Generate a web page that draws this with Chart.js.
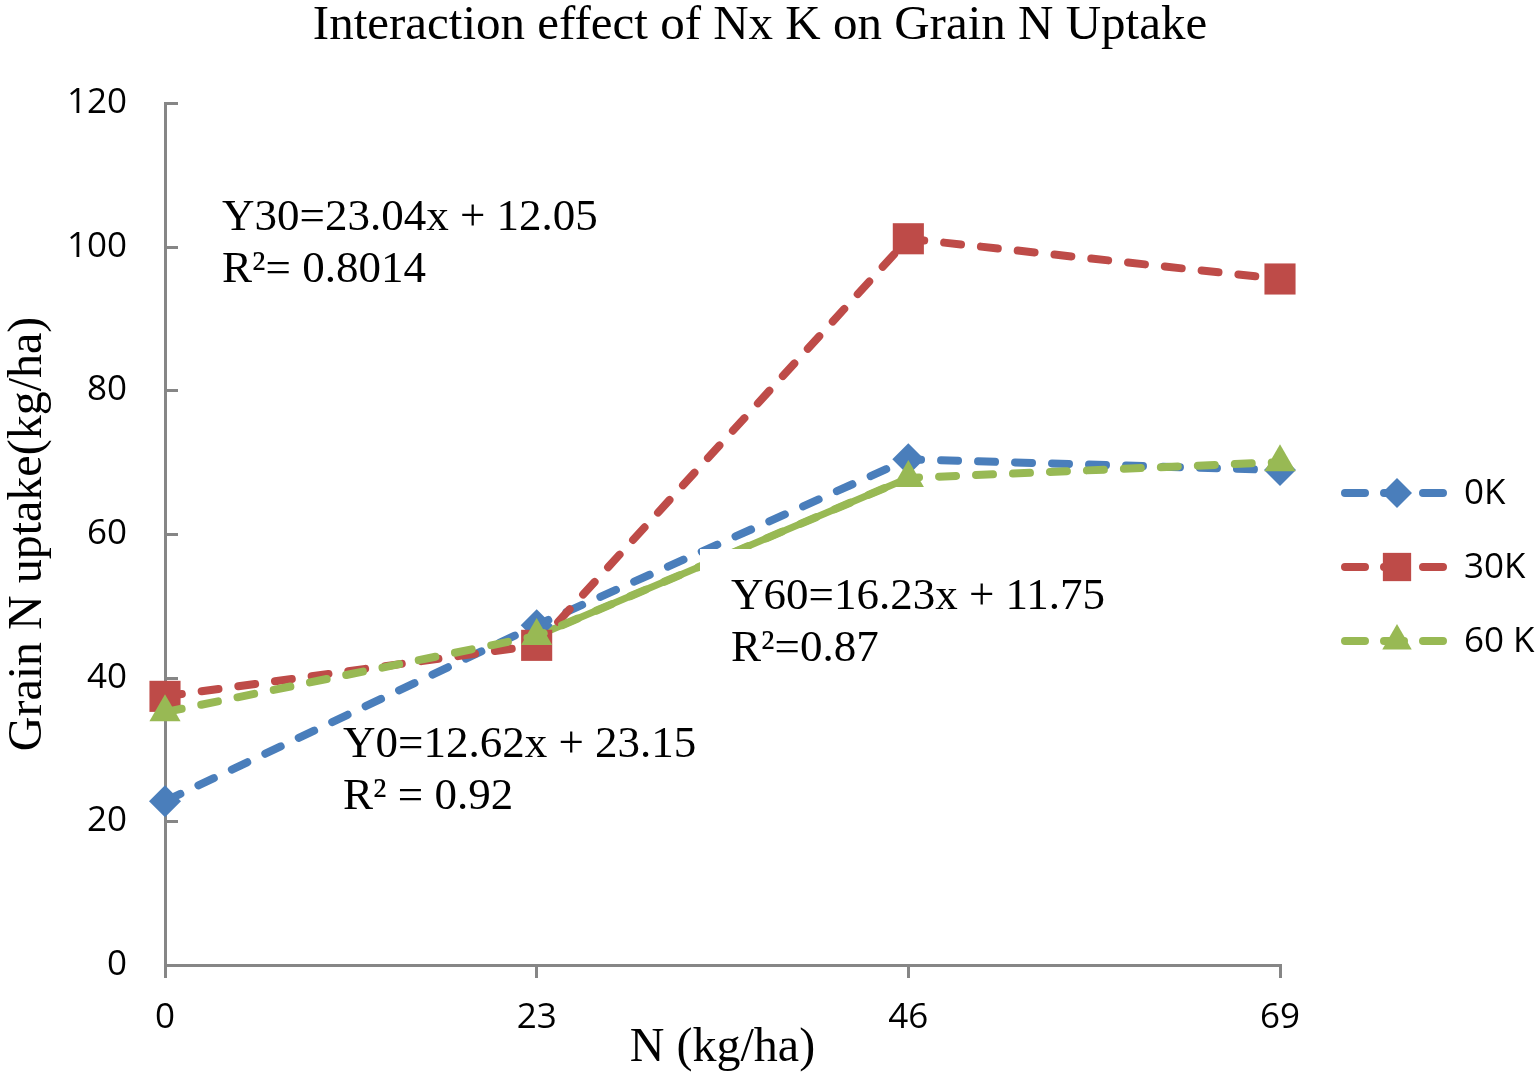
<!DOCTYPE html>
<html><head><meta charset="utf-8">
<script src="https://cdn.jsdelivr.net/npm/chart.js@4/dist/chart.umd.min.js"></script>
<style>html,body{margin:0;padding:0;background:#fff;} canvas{display:block;}</style>
</head><body>
<canvas id="c" width="1536" height="1078"></canvas>
<script>
const categories = ['0', '23', '46', '69'];
const series0K  = [22.8, 47.3, 70.4, 68.9];
const series30K = [37.4, 44.5, 101.1, 95.5];
const series60K = [35.2, 45.8, 67.8, 70.0];
const trend60K  = [null, 45.8, 67.8, null];
const seriesNames = ['0K', '30K', '60 K'];
const yTickValues = [0, 20, 40, 60, 80, 100, 120];
const chartTitle = 'Interaction effect of Nx K on Grain N Uptake';
const xTitle = 'N (kg/ha)';
const yTitle = 'Grain N uptake(kg/ha)';
const eq30 = ['Y30=23.04x + 12.05', 'R\u00B2= 0.8014'];
const eq60 = ['Y60=16.23x + 11.75', 'R\u00B2=0.87'];
const eq0  = ['Y0=12.62x + 23.15', 'R\u00B2 = 0.92'];

const BLUE = '#4A7EBB', RED = '#BE4B48', GREEN = '#98B954', AXIS = '#868686';
const SERIF = '"Liberation Serif", "Times New Roman", serif';
const SANS = '"Open Sans", "Liberation Sans", sans-serif';

const innerYTicks = {
  id: 'innerYTicks',
  beforeDatasetsDraw(chart) {
    const ctx = chart.ctx, s = chart.scales.y, a = chart.chartArea;
    ctx.save();
    ctx.strokeStyle = AXIS; ctx.lineWidth = 3;
    yTickValues.forEach(v => {
      const y = Math.round(s.getPixelForValue(v)) + 0.5;
      ctx.beginPath(); ctx.moveTo(a.left, y); ctx.lineTo(a.left + 13, y); ctx.stroke();
    });
    ctx.restore();
  }
};

const customTitle = {
  id: 'customTitle',
  afterDraw(chart, args, opts) {
    const ctx = chart.ctx;
    ctx.save();
    ctx.fillStyle = '#000';
    ctx.font = '49px ' + SERIF;
    ctx.textAlign = 'center'; ctx.textBaseline = 'middle';
    ctx.fillText(opts.text, opts.x, opts.y);
    ctx.restore();
  }
};

const equations = {
  id: 'equations',
  afterDatasetsDraw(chart, args, opts) {
    const ctx = chart.ctx;
    ctx.save();
    opts.items.forEach(it => {
      if (it.box) { ctx.fillStyle = '#fff'; ctx.fillRect(it.box[0], it.box[1], it.box[2], it.box[3]); }
      ctx.fillStyle = '#000';
      ctx.font = '45px ' + SERIF;
      ctx.textAlign = 'left'; ctx.textBaseline = 'alphabetic';
      it.lines.forEach((t, i) => ctx.fillText(t, it.x, it.y + i * 52));
    });
    ctx.restore();
  }
};

const customLegend = {
  id: 'customLegend',
  afterDraw(chart, args, opts) {
    const ctx = chart.ctx;
    ctx.save();
    chart.data.datasets.slice(0, 3).forEach((ds, i) => {
      const y = opts.y0 + i * opts.dy;
      ctx.strokeStyle = ds.borderColor; ctx.lineWidth = 8; ctx.lineCap = 'round';
      ctx.setLineDash([20, 19]);
      ctx.beginPath(); ctx.moveTo(opts.x0, y); ctx.lineTo(opts.x0 + 98, y); ctx.stroke();
      ctx.setLineDash([]);
      ctx.fillStyle = ds.pointBackgroundColor;
      Chart.helpers.drawPoint(ctx, {pointStyle: ds.pointStyle, radius: opts.radii[i], rotation: 0, borderWidth: 0}, opts.x0 + 52, y);
      ctx.fillStyle = '#000';
      ctx.font = '35px ' + SANS;
      ctx.textAlign = 'left'; ctx.textBaseline = 'middle';
      ctx.fillText(ds.label, opts.x0 + 119, y + 1);
    });
    ctx.restore();
  }
};

const lineDs = (label, data, color, style, radius, order) => ({
  label, data, borderColor: color, backgroundColor: color,
  pointBackgroundColor: color, pointBorderColor: color, pointBorderWidth: 0,
  pointStyle: style, pointRadius: radius, borderWidth: 8, borderDash: [17, 20],
  borderCapStyle: 'round', borderJoinStyle: 'round', tension: 0, fill: false, order
});

new Chart(document.getElementById('c'), {
  type: 'line',
  data: {
    labels: categories,
    datasets: [
      lineDs(seriesNames[0], series0K, BLUE, 'rectRot', 16, 3),
      lineDs(seriesNames[1], series30K, RED, 'rect', 22, 2),
      lineDs(seriesNames[2], series60K, GREEN, 'triangle', 18, 1),
      {label: 'trend', data: trend60K, borderColor: GREEN, borderWidth: 7, pointRadius: 0, tension: 0, fill: false, order: 4, spanGaps: false}
    ]
  },
  options: {
    responsive: false, animation: false, devicePixelRatio: 1,
    layout: {padding: {left: 0, right: 256, top: 103, bottom: 0}},
    plugins: {
      legend: {display: false}, tooltip: {enabled: false}, title: {display: false},
      customTitle: {text: chartTitle, x: 760, y: 26},
      equations: {items: [
        {lines: eq30, x: 222, y: 230},
        {lines: eq60, x: 731, y: 609, box: [700, 549, 415, 125]},
        {lines: eq0, x: 343, y: 757}
      ]},
      customLegend: {x0: 1345, y0: 493, dy: 74, radii: [15, 20, 17]}
    },
    scales: {
      x: {
        type: 'category', offset: false,
        grid: {drawOnChartArea: false, drawTicks: true, tickLength: 13, color: AXIS, lineWidth: 3},
        border: {color: AXIS, width: 3},
        ticks: {font: {family: SANS, size: 35}, color: '#000', padding: 19, maxRotation: 0},
        title: {display: true, text: xTitle, color: '#000', font: {family: SERIF, size: 48, lineHeight: 1.0}, padding: {top: 0, bottom: 6}},
        afterFit(s) { s.height = 113; }
      },
      y: {
        min: 0, max: 120,
        afterBuildTicks(s) { s.ticks = yTickValues.map(v => ({value: v})); },
        grid: {display: false, drawTicks: false},
        border: {color: AXIS, width: 3},
        ticks: {font: {family: SANS, size: 35}, color: '#000', padding: 38},
        title: {display: true, text: yTitle, color: '#000', font: {family: SERIF, size: 48, lineHeight: 1.0}, padding: {top: 4, bottom: 0}},
        afterFit(s) { s.width = 165; }
      }
    }
  },
  plugins: [innerYTicks, equations, customLegend, customTitle]
});
</script>
</body></html>
